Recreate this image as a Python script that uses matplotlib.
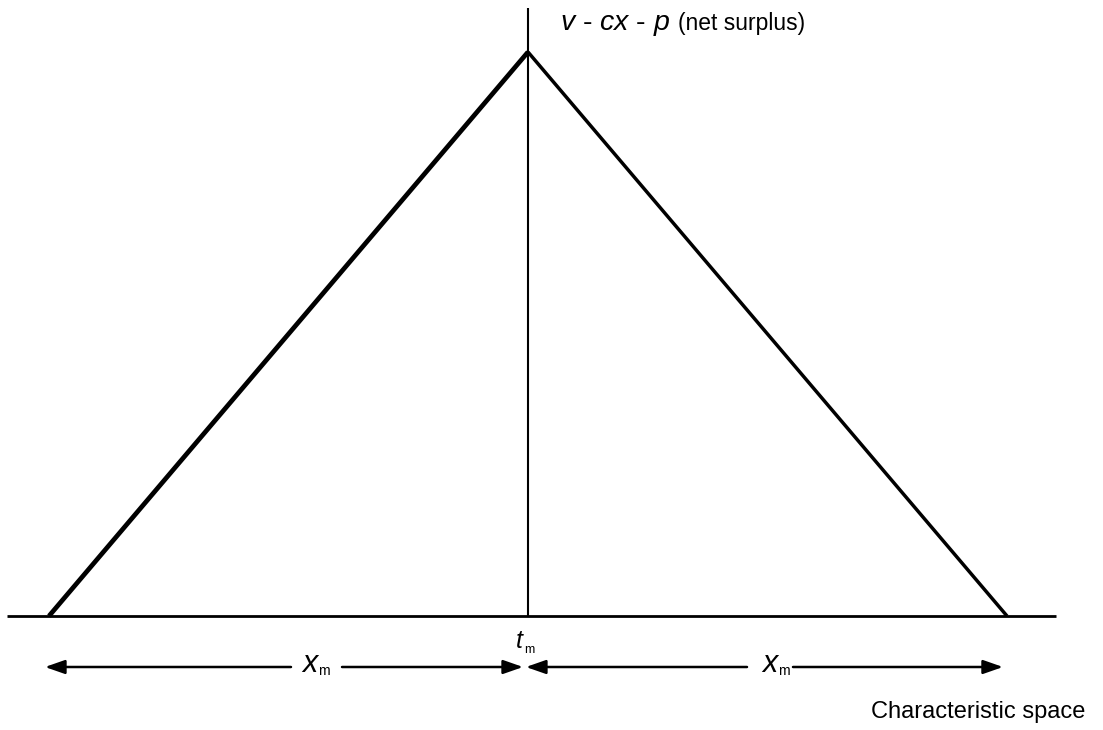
import numpy as np
import matplotlib.pyplot as plt

plt.rcParams['font.family'] = ['Liberation Sans', 'DejaVu Sans']
plt.rcParams['mathtext.fontset'] = 'custom'
plt.rcParams['mathtext.rm'] = 'Liberation Sans'
plt.rcParams['mathtext.it'] = 'Liberation Sans:italic'

# model: consumer located at t_m, firm reaches x_m on each side
t_m = 0.0
x_m = 1.0
peak = 1.0  # v - p at t_m

left_x = [t_m - x_m, t_m]
left_y = [0.0, peak]
right_x = [t_m, t_m + x_m]
right_y = [peak, 0.0]

fig = plt.figure(figsize=(11.03, 7.30), dpi=100)
ax = fig.add_axes([0, 0, 1, 1])
ax.set_xlim(-1.1023, 1.2004)
ax.set_ylim(-0.2021, 1.0922)
ax.axis('off')

# axes lines
ax.plot([-1.0877, 1.1023], [0, 0], color='black', lw=2.0, solid_capstyle='butt')
ax.plot([t_m, t_m], [0, 1.078], color='black', lw=1.5, solid_capstyle='butt')

# net surplus tent
ax.plot(left_x, left_y, color='black', lw=3.4, solid_capstyle='butt')
ax.plot(right_x, right_y, color='black', lw=2.5, solid_capstyle='butt')

# arrows below axis, broken around the x_m labels
ay = -0.0904
ap = dict(arrowstyle='-|>,head_length=0.8,head_width=0.28', color='black',
          lw=1.8, mutation_scale=15, shrinkA=0, shrinkB=0)
segments = [
    (t_m - 0.4948, t_m - x_m - 0.0084),
    (t_m - 0.3883, t_m - 0.0104),
    (t_m + 0.4572, t_m - 0.0043),
    (t_m + 0.5532, t_m + x_m - 0.0084),
]
for start, end in segments:
    ax.annotate('', xy=(end, ay), xytext=(start, ay), arrowprops=ap)

# x_m labels
for cx in [t_m - 0.4562, t_m + 0.5042]:
    ax.text(cx, -0.0993, 'x', fontsize=22, style='italic', ha='center', va='baseline')
    ax.text(cx + 0.0178, -0.1046, 'm', fontsize=10, ha='left', va='baseline')

# t_m label
ax.text(t_m - 0.0188, -0.0567, 't', fontsize=18, style='italic', ha='center', va='baseline')
ax.text(t_m - 0.0084, -0.0656, 'm', fontsize=9, ha='left', va='baseline')

ax.text(0.0668, 1.039, r'$v$ - $cx$ - $p$', fontsize=20.5, ha='left', va='baseline')
ax.text(0.3132, 1.039, '(net surplus)', fontsize=16.5, ha='left', va='baseline')

ax.text(1.1628, -0.1809, 'Characteristic space', fontsize=17, ha='right', va='baseline')

fig.savefig('out.png', dpi=100)
